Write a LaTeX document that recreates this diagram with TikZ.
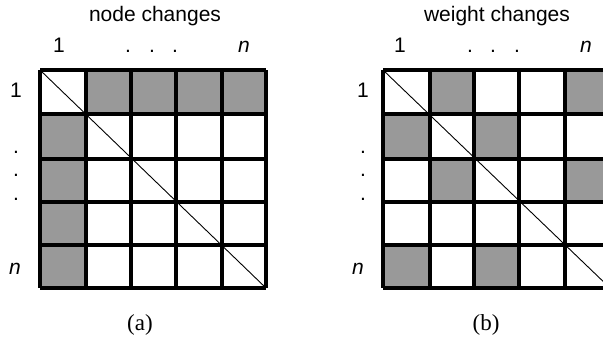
\documentclass[tikz,border=0pt]{standalone}
\usepackage{fontspec}
\setmainfont{Liberation Serif}
\setsansfont{Liberation Sans}
\definecolor{cellgray}{RGB}{153,153,153}
\begin{document}
\begin{tikzpicture}[x=1pt,y=-1pt,
  lbl/.style={font=\sffamily\fontsize{21}{21}\selectfont, anchor=base, inner sep=0pt},
  captxt/.style={font=\rmfamily\fontsize{23}{23}\selectfont, anchor=base, inner sep=0pt},
  cell/.style={fill=cellgray},
  gridline/.style={line width=3.2pt, line cap=square},
  diag/.style={line width=0.9pt}]
\useasboundingbox (0,0) rectangle (603,341);
\clip (0,0) rectangle (603,341);
\fill[white] (0,0) rectangle (603,341);

% ---------- (a) node changes ----------
\fill[cell] (86,70) rectangle (266,114);
\fill[cell] (40,114) rectangle (86,288);
\draw[diag] (40,70) -- (266,288);
\foreach \x in {40,86,131,176,222,266} \draw[gridline] (\x,70) -- (\x,288);
\foreach \y in {70,114,159,202,245,288} \draw[gridline] (40,\y) -- (266,\y);

\node[lbl] (ta) at (155,21) {node changes};
\node[lbl] (a1) at (59,52) {1};
\node[lbl] (ad1) at (128,52) {.};
\node[lbl] (ad2) at (152,52) {.};
\node[lbl] (ad3) at (175,52) {.};
\node[lbl] (an) at (244,52) {\itshape n};
\node[lbl] (al1) at (16,97) {1};
\node[lbl] (ald1) at (16,153) {.};
\node[lbl] (ald2) at (16,176) {.};
\node[lbl] (ald3) at (16,200) {.};
\node[lbl] (aln) at (15,274) {\itshape n};
\node[captxt] (ca) at (140,330) {(a)};

% ---------- (b) weight changes ----------
\fill[cell] (430,70) rectangle (474,114);
\fill[cell] (565,70) rectangle (610,114);
\fill[cell] (383,114) rectangle (430,159);
\fill[cell] (474,114) rectangle (519,159);
\fill[cell] (430,159) rectangle (474,202);
\fill[cell] (565,159) rectangle (610,202);
\fill[cell] (383,245) rectangle (430,288);
\fill[cell] (474,245) rectangle (519,288);
\draw[diag] (383,70) -- (610,288);
\foreach \x in {383,430,474,519,565,610} \draw[gridline] (\x,70) -- (\x,288);
\foreach \y in {70,114,159,202,245,288} \draw[gridline] (383,\y) -- (610,\y);

\node[lbl] (tb) at (497,21) {weight changes};
\node[lbl] (b1) at (400,52) {1};
\node[lbl] (bd1) at (470,52) {.};
\node[lbl] (bd2) at (493,52) {.};
\node[lbl] (bd3) at (517,52) {.};
\node[lbl] (bn) at (586,52) {\itshape n};
\node[lbl] (bl1) at (363,97) {1};
\node[lbl] (bld1) at (363,153) {.};
\node[lbl] (bld2) at (363,176) {.};
\node[lbl] (bld3) at (363,200) {.};
\node[lbl] (bln) at (358,274) {\itshape n};
\node[captxt] (cb) at (486,330) {(b)};
\end{tikzpicture}
\end{document}
